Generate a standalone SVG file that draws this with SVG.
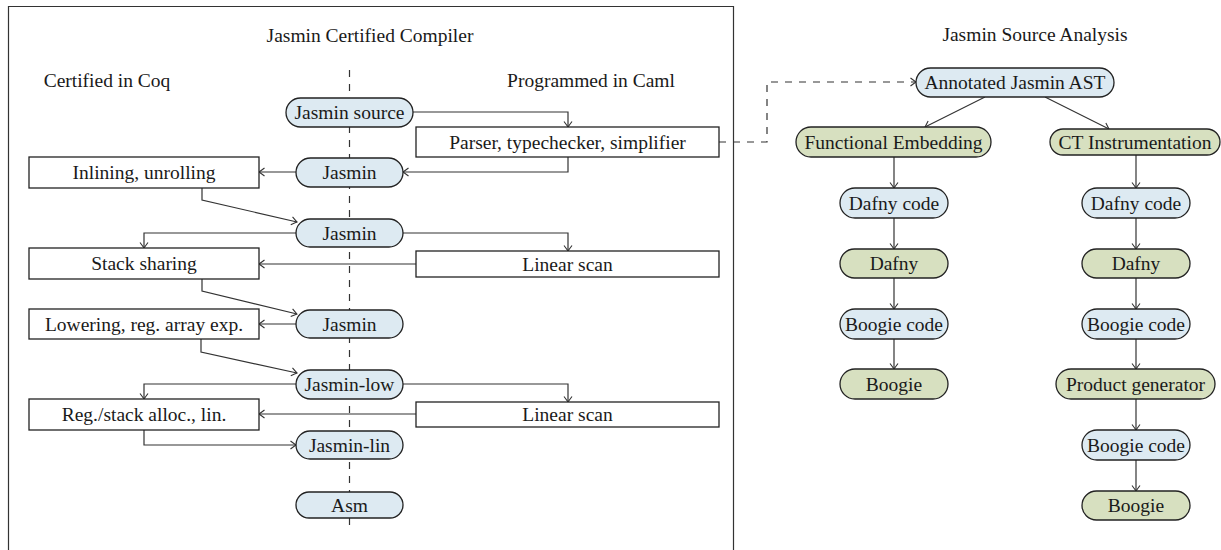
<svg xmlns="http://www.w3.org/2000/svg" width="1221" height="550" viewBox="0 0 1221 550">
<style>
text{font-family:"Liberation Serif","DejaVu Serif",serif;font-size:19.5px;fill:#1a1a1a;text-anchor:middle}
.blue{fill:#ddeaf2;stroke:#222;stroke-width:1.3}
.green{fill:#d7e0c0;stroke:#222;stroke-width:1.3}
.box{fill:#fff;stroke:#222;stroke-width:1.3}
.c{fill:none;stroke:#333;stroke-width:1.2}
.dash{fill:none;stroke:#333;stroke-width:1.2;stroke-dasharray:7,7}
.frame{fill:none;stroke:#333;stroke-width:1.2}
</style>
<defs>
<marker id="arr" markerUnits="userSpaceOnUse" markerWidth="12" markerHeight="12" viewBox="-7 -6 8 12" refX="0" refY="0" orient="auto">
<path d="M-5.5,-4 Q-1.5,-1 0,0 Q-1.5,1 -5.5,4" fill="none" stroke="#333" stroke-width="1.1"/>
</marker>
</defs>
<rect width="1221" height="550" fill="#fff"/>
<path class="frame" d="M8.5,551 V6.5 H733.5 V551"/>
<text x="370" y="42">Jasmin Certified Compiler</text>
<text x="107" y="87">Certified in Coq</text>
<text x="591" y="87">Programmed in Caml</text>
<text x="1035" y="41">Jasmin Source Analysis</text>
<line class="dash" x1="349.5" y1="70" x2="349.5" y2="526"/>
<g id="connectors">
<path class="c" d="M413,112 H568 V127" marker-end="url(#arr)"/>
<path class="c" d="M568,157 V172 H403" marker-end="url(#arr)"/>
<path class="c" d="M296,172 H259" marker-end="url(#arr)"/>
<path class="c" d="M202,188 V200 L297,222" marker-end="url(#arr)"/>
<path class="c" d="M296,233 H144 V248" marker-end="url(#arr)"/>
<path class="c" d="M403,233 H568 V251" marker-end="url(#arr)"/>
<path class="c" d="M416,264 H259" marker-end="url(#arr)"/>
<path class="c" d="M202,279 V291 L297,314" marker-end="url(#arr)"/>
<path class="c" d="M296,324 H259" marker-end="url(#arr)"/>
<path class="c" d="M201,339 V352 L297,373" marker-end="url(#arr)"/>
<path class="c" d="M296,384 H144 V399" marker-end="url(#arr)"/>
<path class="c" d="M403,384 H568 V402" marker-end="url(#arr)"/>
<path class="c" d="M416,414 H259" marker-end="url(#arr)"/>
<path class="c" d="M144,430 V445 H296" marker-end="url(#arr)"/>
<path class="dash" d="M719,142 H767 V82 H916" marker-end="url(#arr)"/>
<path class="c" d="M985,97 L925,127" marker-end="url(#arr)"/>
<path class="c" d="M1045,97 L1109,129" marker-end="url(#arr)"/>
<path class="c" d="M894,157 V188" marker-end="url(#arr)"/>
<path class="c" d="M894,218 V249" marker-end="url(#arr)"/>
<path class="c" d="M894,278 V309" marker-end="url(#arr)"/>
<path class="c" d="M894,339 V369" marker-end="url(#arr)"/>
<path class="c" d="M1136,155 V188" marker-end="url(#arr)"/>
<path class="c" d="M1136,218 V249" marker-end="url(#arr)"/>
<path class="c" d="M1136,278 V309" marker-end="url(#arr)"/>
<path class="c" d="M1136,339 V369" marker-end="url(#arr)"/>
<path class="c" d="M1136,399 V430" marker-end="url(#arr)"/>
<path class="c" d="M1136,460 V491" marker-end="url(#arr)"/>
</g>
<g id="jasmin-source"><rect class="blue" x="286" y="98" width="127" height="29" rx="14.5"/><text x="349.5" y="118.5">Jasmin source</text></g>
<g id="parser"><rect class="box" x="416" y="127" width="303" height="30"/><text x="567.5" y="148.5">Parser, typechecker, simplifier</text></g>
<g id="jasmin1"><rect class="blue" x="296" y="158" width="107" height="29" rx="14.5"/><text x="349.5" y="178.5">Jasmin</text></g>
<g id="inlining"><rect class="box" x="29" y="157" width="230" height="31"/><text x="144" y="178.5">Inlining, unrolling</text></g>
<g id="jasmin2"><rect class="blue" x="296" y="219" width="107" height="28" rx="14"/><text x="349.5" y="239.5">Jasmin</text></g>
<g id="stack-sharing"><rect class="box" x="29" y="248" width="230" height="31"/><text x="144" y="269.5">Stack sharing</text></g>
<g id="linear-scan1"><rect class="box" x="416" y="251" width="303" height="26"/><text x="567.5" y="270.5">Linear scan</text></g>
<g id="jasmin3"><rect class="blue" x="296" y="310" width="107" height="28" rx="14"/><text x="349.5" y="330.5">Jasmin</text></g>
<g id="lowering"><rect class="box" x="29" y="309" width="230" height="30"/><text x="144" y="330.5">Lowering, reg. array exp.</text></g>
<g id="jasmin-low"><rect class="blue" x="296" y="370" width="107" height="29" rx="14.5"/><text x="349.5" y="390.5">Jasmin-low</text></g>
<g id="reg-alloc"><rect class="box" x="29" y="399" width="230" height="31"/><text x="144" y="420.5">Reg./stack alloc., lin.</text></g>
<g id="linear-scan2"><rect class="box" x="416" y="402" width="303" height="25"/><text x="567.5" y="420.5">Linear scan</text></g>
<g id="jasmin-lin"><rect class="blue" x="296" y="431" width="107" height="28" rx="14"/><text x="349.5" y="451.5">Jasmin-lin</text></g>
<g id="asm"><rect class="blue" x="296" y="492" width="107" height="26" rx="13"/><text x="349.5" y="511.5">Asm</text></g>
<g id="ast"><rect class="blue" x="916" y="68" width="198" height="29" rx="14.5"/><text x="1015" y="88.5">Annotated Jasmin AST</text></g>
<g id="functional"><rect class="green" x="796" y="127" width="195" height="30" rx="15"/><text x="893.5" y="148.5">Functional Embedding</text></g>
<g id="ct"><rect class="green" x="1050" y="129" width="170" height="26" rx="13"/><text x="1135" y="148.5">CT Instrumentation</text></g>
<g id="dafny-code-l"><rect class="blue" x="840" y="188" width="108" height="30" rx="15"/><text x="894" y="209.5">Dafny code</text></g>
<g id="dafny-l"><rect class="green" x="840" y="249" width="108" height="29" rx="14.5"/><text x="894" y="269.5">Dafny</text></g>
<g id="boogie-code-l"><rect class="blue" x="840" y="309" width="108" height="30" rx="15"/><text x="894" y="330.5">Boogie code</text></g>
<g id="boogie-l"><rect class="green" x="840" y="369" width="108" height="30" rx="15"/><text x="894" y="390.5">Boogie</text></g>
<g id="dafny-code-r"><rect class="blue" x="1082" y="188" width="108" height="30" rx="15"/><text x="1136" y="209.5">Dafny code</text></g>
<g id="dafny-r"><rect class="green" x="1082" y="249" width="108" height="29" rx="14.5"/><text x="1136" y="269.5">Dafny</text></g>
<g id="boogie-code-r"><rect class="blue" x="1082" y="309" width="108" height="30" rx="15"/><text x="1136" y="330.5">Boogie code</text></g>
<g id="product"><rect class="green" x="1056" y="369" width="159" height="30" rx="15"/><text x="1135.5" y="390.5">Product generator</text></g>
<g id="boogie-code-r2"><rect class="blue" x="1082" y="430" width="108" height="30" rx="15"/><text x="1136" y="451.5">Boogie code</text></g>
<g id="boogie-r"><rect class="green" x="1082" y="491" width="108" height="29" rx="14.5"/><text x="1136" y="511.5">Boogie</text></g>
</svg>
